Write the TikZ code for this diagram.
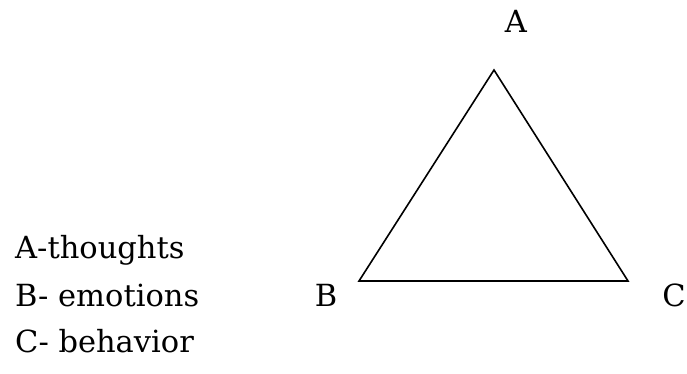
\documentclass[tikz,border=0pt]{standalone}
\usepackage{fontspec}
\setmainfont{DejaVu Serif}
\usetikzlibrary{positioning}

\begin{document}
\begin{tikzpicture}[
    x=1pt, y=-1pt,
    corner/.style={inner sep=0pt, anchor=base, font=\fontsize{30.5}{36}\selectfont},
    legend/.style={inner sep=0pt, anchor=base west, font=\fontsize{30.5}{36}\selectfont},
    edge/.style={draw=black, line width=1.6pt, line join=miter}
]

% --- CANVAS ---
\useasboundingbox (0, 0) rectangle (687, 374);

% --- TRIANGLE CORNERS ---
\coordinate (apex) at (494, 70);
\coordinate (left) at (359, 281);
\coordinate (right) at (628, 281);

% --- TRIANGLE ---
\draw[edge] (apex) -- (right) -- (left) -- cycle;

% --- CORNER LABELS ---
\node[corner] (lblA) at (516, 33) {A};
\node[corner] (lblB) at (326, 306) {B};
\node[corner, anchor=base east] (lblC) at (686, 306) {C};

% --- LEGEND ---
\node[legend] (legA) at (15, 258) {A-thoughts};
\node[legend] (legB) at (15, 306) {B- emotions};
\node[legend] (legC) at (15, 352) {C- behavior};

\end{tikzpicture}
\end{document}
